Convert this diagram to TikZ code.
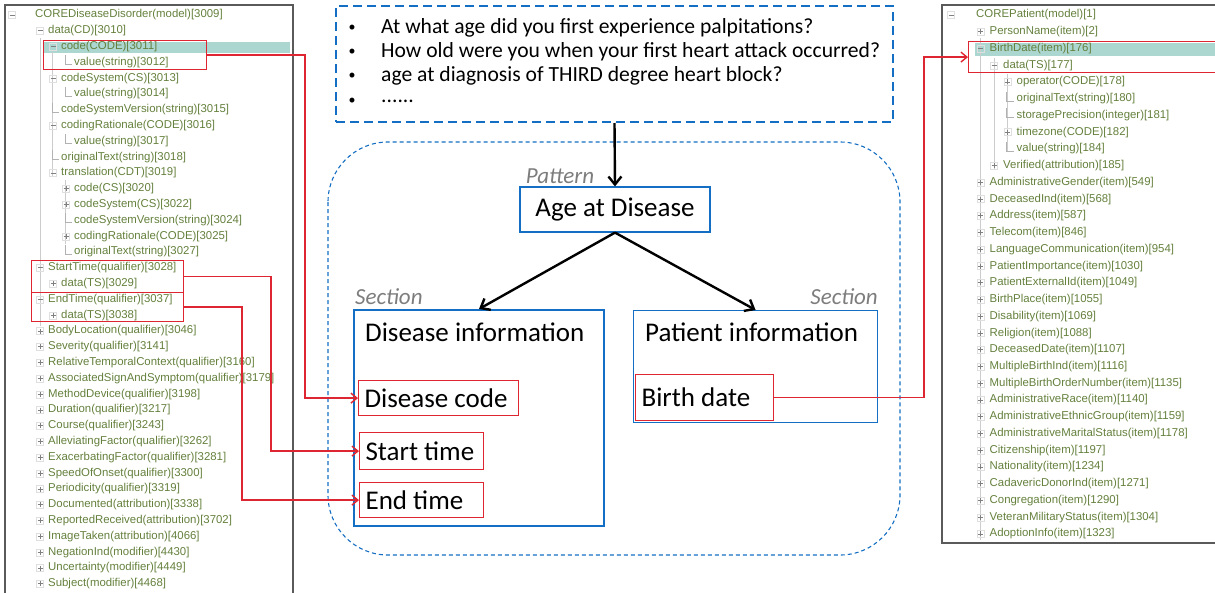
\documentclass[tikz,border=0pt]{standalone}
\usepackage{fontspec}
\setmainfont{Carlito}
\newfontfamily\treefont{Liberation Sans}
\usetikzlibrary{arrows.meta,positioning}

\definecolor{treegreen}{RGB}{100,128,60}
\definecolor{hlteal}{RGB}{172,214,208}
\definecolor{boxblue}{RGB}{20,110,195}
\definecolor{linered}{RGB}{222,38,50}
\definecolor{labelgray}{RGB}{125,125,125}
\definecolor{panelgray}{RGB}{90,90,90}

\tikzset{
  treetext/.style={anchor=west, inner sep=0pt, text=treegreen,
    font=\treefont\fontsize{11.4}{12}\selectfont},
  treeminus/.pic={\draw[gray!25] (-3.5,-3.5) rectangle (3.5,3.5);
    \draw[gray, line width=0.8pt] (-2.5,0) -- (2.5,0);},
  treeplus/.pic={\draw[gray!25] (-3.5,-3.5) rectangle (3.5,3.5);
    \draw[gray, line width=0.8pt] (-2.5,0) -- (2.5,0) (0,-2.5) -- (0,2.5);},
  treeleaf/.pic={\draw[gray!60] (-1,-7) |- (6,2);},
  redbox/.style={draw=linered, line width=1.2pt, anchor=north west, inner sep=0pt},
  itembox/.style={redbox, inner xsep=6pt, font=\fontsize{27}{27}\selectfont},
  sectionbox/.style={draw=boxblue, anchor=north west, inner sep=0pt},
  kindlabel/.style={inner sep=0pt, text=labelgray, font=\itshape\fontsize{23}{23}\selectfont},
  redarrow/.style={draw=linered, line width=1.4pt, -{Straight Barb[length=6pt,width=10pt]}},
  blackarrow/.style={line width=2.4pt, -{Straight Barb[length=8pt,width=13pt]}},
}

\begin{document}
\begin{tikzpicture}[x=1pt,y=-1pt]
\useasboundingbox (0,0) rectangle (1215,592);

% left panel: disease model tree
\fill[hlteal] (43,42) rectangle (290,53);
\draw[panelgray, line width=1.2pt] (5,5) rectangle (293,620);
\draw[gray!40] (40,38) -- (40,326) (52,52) -- (52,176) (65,180) -- (65,244);
\pic at (12,15) {treeminus};
\foreach \lv/\ic/\txt [count=\i] in {
  0/none/{COREDiseaseDisorder(model)[3009]},
  1/minus/{data(CD)[3010]}, 2/minus/{code(CODE)[3011]}, 3/leaf/{value(string)[3012]},
  2/minus/{codeSystem(CS)[3013]}, 3/leaf/{value(string)[3014]},
  2/leaf/{codeSystemVersion(string)[3015]}, 2/minus/{codingRationale(CODE)[3016]},
  3/leaf/{value(string)[3017]}, 2/leaf/{originalText(string)[3018]},
  2/minus/{translation(CDT)[3019]}, 3/plus/{code(CS)[3020]}, 3/plus/{codeSystem(CS)[3022]},
  3/leaf/{codeSystemVersion(string)[3024]}, 3/plus/{codingRationale(CODE)[3025]},
  3/leaf/{originalText(string)[3027]},
  1/minus/{StartTime(qualifier)[3028]}, 2/plus/{data(TS)[3029]},
  1/minus/{EndTime(qualifier)[3037]}, 2/plus/{data(TS)[3038]},
  1/plus/{BodyLocation(qualifier)[3046]}, 1/plus/{Severity(qualifier)[3141]},
  1/plus/{RelativeTemporalContext(qualifier)[3160]},
  1/plus/{AssociatedSignAndSymptom(qualifier)[3179]},
  1/plus/{MethodDevice(qualifier)[3198]}, 1/plus/{Duration(qualifier)[3217]},
  1/plus/{Course(qualifier)[3243]}, 1/plus/{AlleviatingFactor(qualifier)[3262]},
  1/plus/{ExacerbatingFactor(qualifier)[3281]}, 1/plus/{SpeedOfOnset(qualifier)[3300]},
  1/plus/{Periodicity(qualifier)[3319]}, 1/plus/{Documented(attribution)[3338]},
  1/plus/{ReportedReceived(attribution)[3702]}, 1/plus/{ImageTaken(attribution)[4066]},
  1/plus/{NegationInd(modifier)[4430]}, 1/plus/{Uncertainty(modifier)[4449]},
  1/plus/{Subject(modifier)[4468]}} {
  \pgfmathsetmacro\tx{35+13*\lv}
  \pgfmathsetmacro\ty{15+15.8*(\i-1)}
  \ifnum\lv>0 \pic at (\tx-8,\ty) {tree\ic}; \fi
  \node (l\i) [treetext] at (\tx,\ty) {\txt};
}
\node (codebox) [redbox, minimum width=163pt, minimum height=29pt] at (43,40) {};
\node (startbox) [redbox, minimum width=152pt, minimum height=32pt] at (31,260) {};
\node (endbox) [redbox, minimum width=152pt, minimum height=29pt] at (31,292) {};

% right panel: patient model tree
\fill[hlteal] (975,43) rectangle (1215,56);
\draw[panelgray, line width=1.2pt] (942,5) rectangle (1230,543);
\draw[gray!40] (980,38) -- (980,540) (994,58) -- (994,170) (1007,74) -- (1007,152);
\pic at (951,15) {treeminus};
\foreach \lv/\ic/\txt [count=\i] in {
  0/none/{COREPatient(model)[1]}, 1/plus/{PersonName(item)[2]},
  1/minus/{BirthDate(item)[176]}, 2/minus/{data(TS)[177]},
  3/plus/{operator(CODE)[178]}, 3/leaf/{originalText(string)[180]},
  3/leaf/{storagePrecision(integer)[181]}, 3/plus/{timezone(CODE)[182]},
  3/leaf/{value(string)[184]}, 2/plus/{Verified(attribution)[185]},
  1/plus/{AdministrativeGender(item)[549]}, 1/plus/{DeceasedInd(item)[568]},
  1/plus/{Address(item)[587]}, 1/plus/{Telecom(item)[846]},
  1/plus/{LanguageCommunication(item)[954]}, 1/plus/{PatientImportance(item)[1030]},
  1/plus/{PatientExternalId(item)[1049]}, 1/plus/{BirthPlace(item)[1055]},
  1/plus/{Disability(item)[1069]}, 1/plus/{Religion(item)[1088]},
  1/plus/{DeceasedDate(item)[1107]}, 1/plus/{MultipleBirthInd(item)[1116]},
  1/plus/{MultipleBirthOrderNumber(item)[1135]}, 1/plus/{AdministrativeRace(item)[1140]},
  1/plus/{AdministrativeEthnicGroup(item)[1159]},
  1/plus/{AdministrativeMaritalStatus(item)[1178]}, 1/plus/{Citizenship(item)[1197]},
  1/plus/{Nationality(item)[1234]}, 1/plus/{CadavericDonorInd(item)[1271]},
  1/plus/{Congregation(item)[1290]}, 1/plus/{VeteranMilitaryStatus(item)[1304]},
  1/plus/{AdoptionInfo(item)[1323]}} {
  \pgfmathsetmacro\tx{976+13.5*\lv}
  \pgfmathsetmacro\ty{15+16.74*(\i-1)}
  \ifnum\lv>0 \pic at (\tx-9,\ty) {tree\ic}; \fi
  \node (r\i) [treetext] at (\tx,\ty) {\txt};
}
\node (birthbox) [redbox, minimum width=250pt, minimum height=31pt] at (968,41) {};

% questions
\node (questions) [draw=boxblue, line width=2pt, dash pattern=on 9pt off 5pt,
  minimum width=557pt, minimum height=116pt] at (614.5,64) {};
\foreach \q/\y in {{At what age did you first experience palpitations?}/28,
  {How old were you when your first heart attack occurred?}/52,
  {age at diagnosis of THIRD degree heart block?}/76, {......}/101} {
  \node at (352,\y) {\fontsize{14}{14}\selectfont\textbullet};
  \node [anchor=west, inner sep=0pt, font=\fontsize{21.6}{22}\selectfont] at (381,\y) {\q};
}

% pattern
\draw[boxblue, line width=1.1pt, dash pattern=on 4pt off 3pt, rounded corners=60pt]
  (328,142) rectangle (900,555);
\node (age) [draw=boxblue, line width=1.2pt, minimum width=190pt, minimum height=45pt,
  font=\fontsize{27}{27}\selectfont] at (615,209.5) {Age at Disease};
\node [kindlabel, anchor=south] at (560,184) {Pattern};

% sections
\node (disbox) [sectionbox, line width=2pt, minimum width=250pt, minimum height=216pt] at (353,309) {};
\node [kindlabel, anchor=south west] at (355,305) {Section};
\node (distitle) [anchor=west, inner sep=0pt, font=\fontsize{27}{27}\selectfont] at (365,332) {Disease information};
\node (patbox) [sectionbox, line width=1.2pt, minimum width=244pt, minimum height=112pt] at (633,310) {};
\node [kindlabel, anchor=south east] at (878,305) {Section};
\node (pattitle) [anchor=west, inner sep=0pt, font=\fontsize{27}{27}\selectfont] at (645,332) {Patient information};

\node (dcode) [itembox, minimum height=35pt] at (358,380) {\makebox[148pt][l]{Disease code}};
\node (stime) [itembox, minimum height=37pt] at (359,432) {\makebox[112pt][l]{Start time}};
\node (etime) [itembox, minimum height=35pt] at (359,482) {\makebox[112pt][l]{End time}};
\node (bdate) [itembox, minimum height=46pt] at (635,374) {\makebox[126pt][l]{Birth date}};

\draw[blackarrow] (questions.south) -- (age.north);
\draw[blackarrow] (age.south) -- (disbox.north);
\draw[blackarrow] (age.south) -- (patbox.north);

% mappings
\coordinate (codebend) at (305,0);
\coordinate (startbend) at (271,0);
\coordinate (endbend) at (242,0);
\coordinate (birthbend) at (924,0);
\draw[redarrow] (codebox.east) -- (codebox.east -| codebend) |- (dcode.west);
\draw[redarrow] (startbox.east) -- (startbox.east -| startbend) |- (stime.west);
\draw[redarrow] (endbox.east) -- (endbox.east -| endbend) |- (etime.west);
\draw[redarrow] (bdate.east) -- (bdate.east -| birthbend) |- (birthbox.west);
\end{tikzpicture}
\end{document}
